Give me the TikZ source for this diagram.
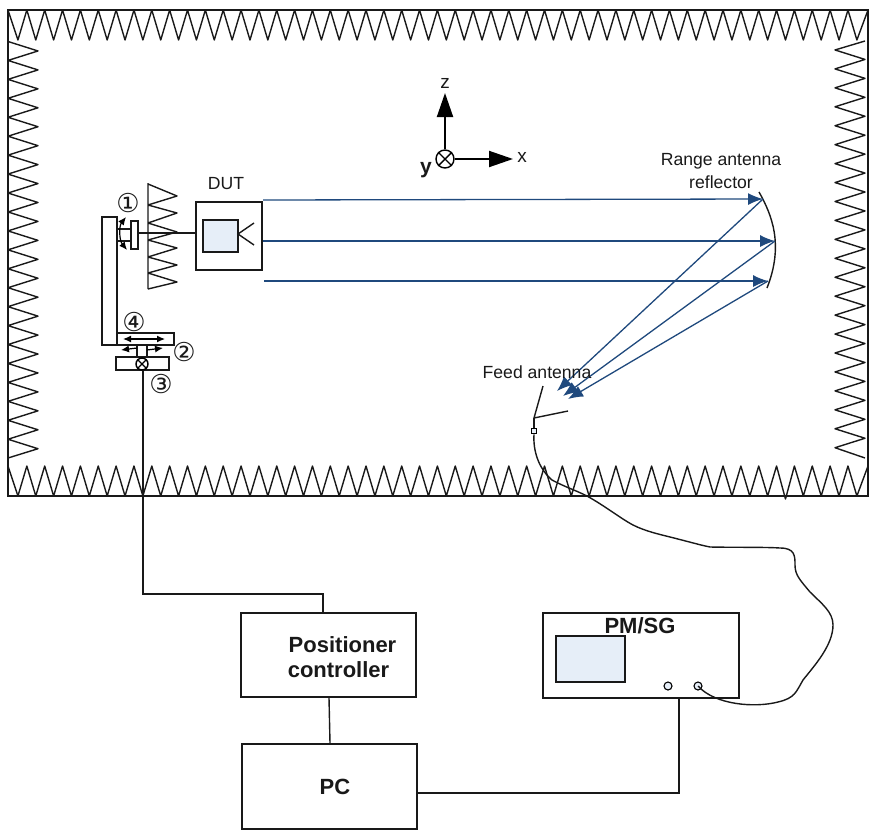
\documentclass[tikz,border=0pt]{standalone}
\usepackage{fontspec}
\setmainfont{Liberation Sans}
\newfontfamily\symfont{DejaVu Sans}
\usetikzlibrary{arrows.meta}
\definecolor{rayblue}{HTML}{1F497D}
\definecolor{panelblue}{HTML}{E6EEF8}
\tikzset{
  plainbox/.style={draw=black!90,line width=1.5pt,inner sep=0pt,fill=white},
  panel/.style={draw=black!90,line width=1.5pt,inner sep=0pt,fill=panelblue},
  wire/.style={draw=black!90,line width=1.4pt},
  zig/.style={draw=black!90,line width=1.4pt,line join=round},
  ray/.style={draw=rayblue,line width=1.3pt,-{Latex[length=15pt,width=12pt]}},
  axis/.style={draw=black,line width=2pt,-{Triangle[length=24pt,width=16pt]}},
  smallarrow/.style={draw=black,line width=1.2pt,-{Latex[length=8pt,width=7pt]}},
  dblarrow/.style={draw=black,line width=1.2pt,{Latex[length=8pt,width=7pt]}-{Latex[length=8pt,width=7pt]}},
  lbl/.style={inner sep=0pt,font=\fontsize{17.6}{20}\selectfont,text=black!90},
  blbl/.style={inner sep=0pt,font=\fontsize{22}{24}\selectfont\bfseries,text=black!90,align=center},
  digit/.style={inner sep=0pt,font=\fontsize{26}{26}\selectfont\symfont,text=black!90},
  xcirc/.style={circle,draw=black,line width=1.4pt,fill=white,inner sep=0pt}
}
\begin{document}
\begin{tikzpicture}[x=1pt,y=-1pt]
\useasboundingbox (0,0) rectangle (874,830);
% chamber
\node[draw=black!90,line width=1.7pt,inner sep=0pt,minimum width=860pt,minimum height=486pt] (chamber) at (438,253) {};
\draw[zig] (8,10) -- plot[samples at={1,...,95},variable=\k] ({9+8.925*\k},{10+30*mod(\k,2)}) -- (868,10);
\draw[zig] (8,466) -- plot[samples at={1,...,95},variable=\k] ({9+8.925*\k},{466+(\k==87?33:30)*mod(\k,2)}) -- (868,466);
\draw[zig] (8,41.5) -- plot[samples at={1,...,43},variable=\k] ({8+30*mod(\k,2)},{41.5+9.47*\k}) -- (8,458);
\draw[zig] (865,41) -- plot[samples at={1,...,43},variable=\k] ({865-30*mod(\k,2)},{40.5+9.47*\k}) -- (865,458);
% absorber behind DUT
\draw[zig] (148,183) -- (148,289) (148,184) -- (177,196) -- (148,205) -- (177,213) -- (148,223) -- (177,232) -- (148,240) -- (177,248) -- (148,257) -- (177,265) -- (148,273) -- (177,282) -- (148,289);
% positioner
\node[plainbox,minimum width=15pt,minimum height=128pt] (column) at (109.5,281) {};
\node[plainbox,minimum width=57pt,minimum height=12pt] (stage2) at (145.5,339) {};
\node[plainbox,minimum width=53pt,minimum height=13pt] (stage3) at (142.5,363.5) {};
\node[plainbox,minimum width=7pt,minimum height=28pt] (plate) at (134.5,235) {};
\node[plainbox,minimum width=66pt,minimum height=68pt] (dut) at (229,236) {};
\node[panel,minimum width=35pt,minimum height=32pt] (dutinner) at (220.5,236) {};
\draw[wire] (plate.east |- 0,233) -- (dut.west |- 0,233);
\draw[wire] (column.east |- 0,229) -- (plate.west |- 0,229);
\draw[wire] (column.east |- 0,241) -- (plate.west |- 0,241);
\draw[dblarrow] (126,217) .. controls (119,226) and (119,240) .. (127,250);
\coordinate (apex) at (238,234);
\coordinate (hornA) at (254,223);
\coordinate (hornB) at (254,245);
\draw[wire] (hornA) -- (apex) -- (hornB);
\draw[dblarrow] (123,339) -- (165,339);
\draw[wire] (137,345) -- (137,357) (147,345) -- (147,357);
\draw[smallarrow] (137,348) -- (121,350);
\draw[smallarrow] (147,350) -- (163,348);
\node[xcirc,minimum size=12pt] (rot3) at (142,364) {};
\draw[line width=1.2pt] (rot3.north west) -- (rot3.south east) (rot3.north east) -- (rot3.south west);
\node[digit] (d1) at (128,203) {①};
\node[digit] (d4) at (134,322) {④};
\node[digit] (d2) at (184,352) {②};
\node[digit] (d3) at (161,384) {③};
\node[lbl] (dutlabel) at (226,184) {DUT};
% axes
\node[xcirc,minimum size=18pt] (origin) at (445,159) {};
\draw[line width=1.4pt] (origin.north west) -- (origin.south east) (origin.north east) -- (origin.south west);
\coordinate (ztip) at (445,93);
\coordinate (xtip) at (513,159);
\draw[axis] (origin.north) -- (ztip);
\draw[axis] (origin.east) -- (xtip);
\node[lbl,font=\fontsize{19}{20}\selectfont] (zl) at (445,83) {z};
\node[lbl,font=\fontsize{19}{20}\selectfont] (xl) at (522,157) {x};
\node[lbl,font=\fontsize{21}{22}\selectfont\bfseries] (yl) at (426,170) {y};
% reflector and rays
\coordinate (r1) at (763,199);
\coordinate (r2) at (775,241);
\coordinate (r3) at (768,281);
\draw[line width=1.4pt,draw=black!90] (759,192) .. controls (772,215) and (784,245) .. (767,288);
\draw[ray] (263,200) -- (r1);
\draw[ray] (263,241) -- (r2);
\draw[ray] (264,281) -- (r3);
\coordinate (f1) at (557,391);
\coordinate (f2) at (563,396);
\coordinate (f3) at (568,399);
\draw[ray] (r1) -- (f1);
\draw[ray] (r2) -- (f2);
\draw[ray] (r3) -- (f3);
\node[lbl] (rangelbl) at (721,161) {Range antenna};
\node[lbl] (refllbl) at (721,182) {reflector};
\node[lbl] (feedlbl) at (537,372) {Feed antenna};
% feed
\coordinate (fa) at (543,386);
\coordinate (fb) at (534,418);
\coordinate (fc) at (568,411);
\draw[wire] (fa) -- (fb) -- (fc);
\node[draw=black,line width=1.1pt,fill=panelblue,inner sep=0pt,minimum size=5.5pt] (feedport) at (534,431) {};
\draw[wire] (fb) -- (feedport.north);
% lower boxes
\node[plainbox,minimum width=175pt,minimum height=84pt] (ctrl) at (328.5,655) {};
\node[blbl] (ctrlA) at (342.5,645) {Positioner};
\node[blbl] (ctrlB) at (338.5,670) {controller};
\node[plainbox,minimum width=175pt,minimum height=85pt] (pc) at (329.5,786.5) {};
\node[blbl] (pclbl) at (335,787) {PC};
\node[plainbox,minimum width=196pt,minimum height=85pt] (pm) at (641,655.5) {};
\node[blbl] (pmlbl) at (640,626) {PM/SG};
\node[panel,minimum width=69pt,minimum height=46pt] (screen) at (590.5,659) {};
\node[circle,draw=black,line width=1.1pt,fill=panelblue,inner sep=0pt,minimum size=8pt] (port1) at (668,686) {};
\node[circle,draw=black,line width=1.1pt,fill=panelblue,inner sep=0pt,minimum size=8pt] (port2) at (698,686) {};
% connectors
\draw[wire] (rot3.south -| 143,0) -- (143,594) -- (323,594) -- (ctrl.north -| 323,0);
\draw[wire] (ctrl.south -| 329,0) -- (pc.north -| 330,0);
\draw[wire] (pc.east |- 0,793) -- (679,793) -- (pm.south -| 679,0);
\draw[wire] (feedport.south) .. controls (533,450) and (538,468) .. (552,480)
  .. controls (565,487) and (575,490) .. (587,496)
  .. controls (605,506) and (620,518) .. (633,525)
  .. controls (645,531) and (658,534) .. (670,537)
  .. controls (690,542) and (700,545) .. (710,547)
  .. controls (735,547.5) and (765,547) .. (780,548)
  .. controls (795,548) and (795,556) .. (795,565)
  .. controls (795,575) and (800,580) .. (810,592)
  .. controls (822,604) and (833,612) .. (833,625)
  .. controls (833,645) and (815,665) .. (803,680)
  .. controls (796,692) and (795,698) .. (778,702)
  .. controls (755,708) and (715,705) .. (port2.center);
\end{tikzpicture}
\end{document}
